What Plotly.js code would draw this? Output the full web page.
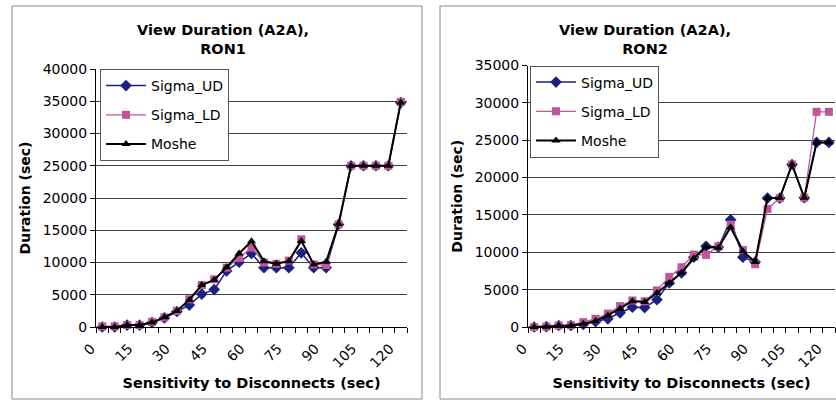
<!DOCTYPE html>
<html>
<head>
<meta charset="utf-8">
<script src="https://cdn.plot.ly/plotly-3.0.1.min.js"></script>
<style>
html,body{margin:0;padding:0;overflow:hidden;background:#fff;}
#chart{width:846px;height:400px;}
</style>
</head>
<body>
<div id="chart"></div>
<script>
// Sensitivity to disconnects (sec) — categories
const sensitivity = [0, 5, 10, 15, 20, 25, 30, 35, 40, 45, 50, 55, 60, 65, 70, 75, 80, 85, 90, 95, 100, 105, 110, 115, 120];
const xTickLabels = [0, 15, 30, 45, 60, 75, 90, 105, 120];
const seriesNames = ["Sigma_UD", "Sigma_LD", "Moshe"];

// RON1 view duration (sec)
const ron1SigmaUD = [0, 0, 300, 300, 700, 1400, 2400, 3400, 5100, 5800, 8700, 10050, 11400, 9200, 9200, 9200, 11500, 9200, 9200, 15900, 25000, 25000, 25000, 25000, 34800];
const ron1SigmaLD = [100, 100, 300, 300, 800, 1500, 2500, 4300, 6500, 7400, 9200, 10700, 12300, 10000, 9800, 10300, 13600, 9700, 9600, 15900, 25000, 25000, 25000, 25000, 34900];
const ron1Moshe   = [0, 0, 300, 300, 700, 1500, 2500, 4200, 6500, 7300, 9250, 11400, 13300, 10200, 9800, 10200, 13350, 9700, 10100, 15950, 25000, 25000, 25000, 25000, 34800];

// RON2 view duration (sec)
const ron2SigmaUD = [0, 50, 200, 200, 350, 700, 1100, 1900, 2650, 2600, 3650, 5900, 7250, 9350, 10800, 10700, 14350, 9350, 8700, 17250, 17250, 21750, 17300, 24700, 24700];
const ron2SigmaLD = [0, 50, 200, 250, 650, 1100, 1800, 2800, 3550, 3450, 4900, 6700, 8000, 9700, 9650, 10800, 13700, 10300, 8400, 15800, 17250, 21750, 17300, 28800, 28800];
const ron2Moshe   = [0, 50, 200, 200, 450, 800, 1550, 2450, 3450, 3350, 4550, 5900, 7250, 9200, 10700, 10600, 13350, 10150, 8700, 17250, 17250, 21750, 17300, 24700, 24700];

const W = 846, H = 400;
const px = v => v / W;
const py = v => (H - v) / H;

const colUD = "#1c2080", colLD = "#c0559a", colM = "#000000";
const FONT = "DejaVu Sans, Liberation Sans, Arial, sans-serif";

function trace(y, name, i, xa, ya, leg) {
  const styles = [
    {color: colUD, width: 1.5, symbol: "diamond", size: 9},
    {color: colLD, width: 1.3, symbol: "square", size: 8},
    {color: colM, width: 2, symbol: "triangle-up", size: 8}
  ][i];
  return {
    x: sensitivity, y: y, name: name, type: "scatter", mode: "lines+markers",
    xaxis: xa, yaxis: ya, legend: leg, legendgroup: leg + name,
    cliponaxis: false,
    line: {color: styles.color, width: styles.width},
    marker: {color: styles.color, symbol: styles.symbol, size: styles.size, line: {width: 0}}
  };
}

const data = [
  trace(ron1SigmaUD, seriesNames[0], 0, "x", "y", "legend"),
  trace(ron1SigmaLD, seriesNames[1], 1, "x", "y", "legend"),
  trace(ron1Moshe, seriesNames[2], 2, "x", "y", "legend"),
  trace(ron2SigmaUD, seriesNames[0], 0, "x2", "y2", "legend2"),
  trace(ron2SigmaLD, seriesNames[1], 1, "x2", "y2", "legend2"),
  trace(ron2Moshe, seriesNames[2], 2, "x2", "y2", "legend2")
];

function xaxis(domain, anchor) {
  return {
    domain: domain, anchor: anchor, range: [-2.5, 122.5],
    tickmode: "array", tickvals: xTickLabels, ticktext: xTickLabels.map(String),
    tickangle: -45, ticks: "", showgrid: false, zeroline: false,
    ticklabelstandoff: 7, ticklabelshift: -11,
    showline: true, linecolor: "#000", linewidth: 1,
    tickfont: {family: FONT, size: 14, color: "#000"},
    minor: {tickmode: "linear", tick0: -2.5, dtick: 5, ticks: "outside", ticklen: 5, tickcolor: "#000", showgrid: false},
    title: {text: "<b>Sensitivity to Disconnects (sec)</b>", font: {family: FONT, size: 14.5, color: "#000"}, standoff: 8}
  };
}
function yaxis(domain, anchor, max) {
  return {
    domain: domain, anchor: anchor, range: [0, max], tickmode: "linear", tick0: 0, dtick: 5000,
    tickformat: "d", ticks: "outside", ticklen: 5, tickcolor: "#000",
    showgrid: true, gridcolor: "#404040", gridwidth: 1, zeroline: false,
    showline: true, linecolor: "#000", linewidth: 1,
    tickfont: {family: FONT, size: 14, color: "#000"},
    title: {text: "<b>Duration (sec)</b>", font: {family: FONT, size: 14, color: "#000"}, standoff: 8}
  };
}

function legend(x, y) {
  return {x: x, y: y, xanchor: "left", yanchor: "top", bgcolor: "#fff",
    bordercolor: "#555", borderwidth: 1, tracegroupgap: 8, itemwidth: 40,
    font: {family: FONT, size: 14, color: "#000"}};
}

const layout = {
  width: W, height: H,
  margin: {l: 0, r: 0, t: 0, b: 0},
  paper_bgcolor: "#fff", plot_bgcolor: "#fff",
  font: {family: FONT, color: "#000"},
  xaxis: xaxis([px(96), px(407)], "y"),
  yaxis: yaxis([py(327), py(69)], "x", 40000),
  xaxis2: xaxis([px(528), px(835)], "y2"),
  yaxis2: yaxis([py(327), py(65.5)], "x2", 35000),
  legend: legend(px(100), py(69)),
  legend2: legend(px(530), py(65.5)),
  shapes: [
    {type: "rect", xref: "paper", yref: "paper", x0: px(12), x1: px(422), y0: py(399), y1: py(6), line: {color: "#8a8a8a", width: 1}},
    {type: "rect", xref: "paper", yref: "paper", x0: px(440), x1: px(845), y0: py(399), y1: py(6), line: {color: "#8a8a8a", width: 1}}
  ],
  annotations: [
    {text: "<b>View Duration (A2A),</b><br><b>RON1</b>", xref: "paper", yref: "paper", x: px(223), y: py(40),
      xanchor: "center", yanchor: "middle", showarrow: false, font: {family: FONT, size: 14.5, color: "#000"}},
    {text: "<b>View Duration (A2A),</b><br><b>RON2</b>", xref: "paper", yref: "paper", x: px(645), y: py(40),
      xanchor: "center", yanchor: "middle", showarrow: false, font: {family: FONT, size: 14.5, color: "#000"}}
  ],
  showlegend: true
};

Plotly.newPlot("chart", data, layout, {staticPlot: true, displayModeBar: false});
</script>
</body>
</html>
